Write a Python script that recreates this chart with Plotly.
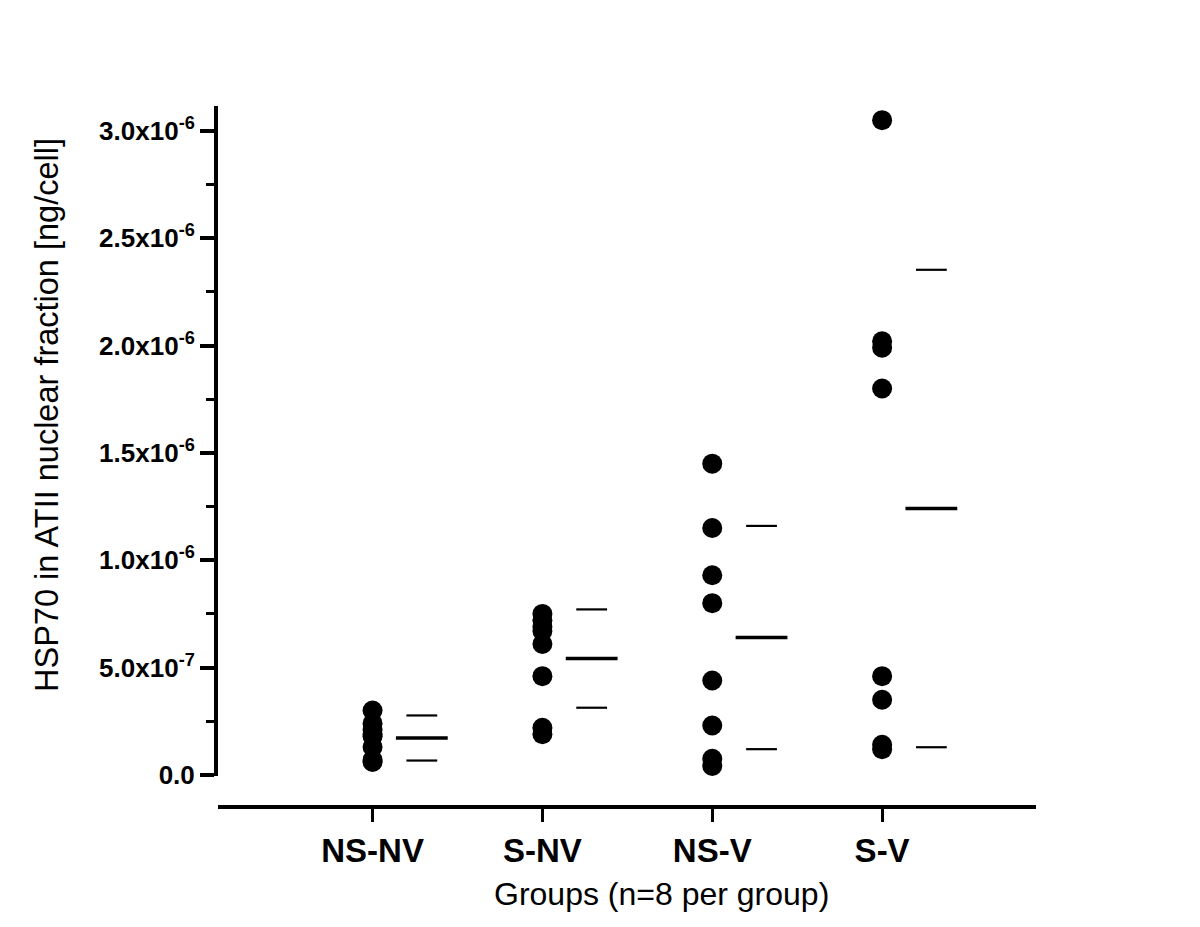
import plotly.graph_objects as go

groups = ["NS-NV", "S-NV", "NS-V", "S-V"]
# values in units of 1e-6 ng/cell
ns_nv = [0.30, 0.24, 0.21, 0.19, 0.18, 0.13, 0.07, 0.06]
s_nv = [0.75, 0.72, 0.69, 0.67, 0.61, 0.46, 0.22, 0.19]
ns_v = [1.45, 1.15, 0.93, 0.80, 0.44, 0.23, 0.075, 0.042]
s_v = [3.05, 2.02, 1.99, 1.80, 0.46, 0.35, 0.14, 0.12]
means = [0.172, 0.542, 0.640, 1.241]
sds = [0.105, 0.229, 0.520, 1.112]

ytick_vals = [0.0, 0.5, 1.0, 1.5, 2.0, 2.5, 3.0]
ytick_text = ["0.0", "5.0x10<sup>-7</sup>", "1.0x10<sup>-6</sup>", "1.5x10<sup>-6</sup>",
              "2.0x10<sup>-6</sup>", "2.5x10<sup>-6</sup>", "3.0x10<sup>-6</sup>"]

scale = 1e-6
series = [ns_nv, s_nv, ns_v, s_v]
offset = 0.29

fig = go.Figure()
for i, vals in enumerate(series):
    fig.add_trace(go.Scatter(
        x=[i + 1] * len(vals), y=[v * scale for v in vals], mode="markers",
        marker=dict(size=20, color="black", symbol="circle"),
        cliponaxis=False, showlegend=False))

xs = [i + 1 + offset for i in range(len(groups))]
fig.add_trace(go.Scatter(
    x=xs, y=[m * scale for m in means], mode="markers",
    marker=dict(symbol="line-ew", size=37, line=dict(width=3.5, color="black")),
    cliponaxis=False, showlegend=False))
fig.add_trace(go.Scatter(
    x=xs + xs, y=[(m + s) * scale for m, s in zip(means, sds)] + [(m - s) * scale for m, s in zip(means, sds)],
    mode="markers",
    marker=dict(symbol="line-ew", size=22, line=dict(width=2.2, color="black")),
    cliponaxis=False, showlegend=False))

OFF = 7  # page offset observed in rendering
L, R = 210, 172
T = 105 - OFF
B = 927 - (808 - OFF) + 2
W = 1200 - L - R
H = 927 - T - B
bottom_px = 927 - B  # layout px of domain bottom
ydom0 = (bottom_px - (775 - OFF)) / H


def px_x(p):
    return (p - OFF - L) / W


def px_y(p):
    return (bottom_px - (p - OFF)) / H


fig.update_layout(
    width=1200, height=927,
    margin=dict(l=L, r=R, t=T, b=B),
    paper_bgcolor="white", plot_bgcolor="white",
    font=dict(family="Liberation Sans, Arial, sans-serif", color="black"),
    xaxis=dict(
        range=[0.09, 4.906], anchor="free", position=0,
        tickvals=[1, 2, 3, 4], ticktext=["<b>%s</b>" % g for g in groups],
        tickfont=dict(size=33), showline=True, linewidth=4, linecolor="black",
        ticks="outside", ticklen=13, tickwidth=3, tickcolor="black",
        showgrid=False, zeroline=False,
    ),
    yaxis=dict(
        domain=[ydom0, 1], range=[-0.005e-6, 3.116e-6], anchor="x",
        tickvals=[v * scale for v in ytick_vals],
        ticktext=["<b>%s</b>" % t for t in ytick_text],
        tickfont=dict(size=26), showline=True, linewidth=4, linecolor="black",
        ticks="outside", ticklen=14, tickwidth=4, tickcolor="black",
        minor=dict(dtick=0.25e-6, tick0=0, ticks="outside", ticklen=8, tickwidth=3, tickcolor="black"),
        showgrid=False, zeroline=False,
    ),
    annotations=[
        dict(text="HSP70 in ATII nuclear fraction [ng/cell]", xref="paper", yref="paper",
             x=px_x(46), y=px_y(414), textangle=-90, showarrow=False,
             font=dict(size=32.5), xanchor="center", yanchor="middle"),
        dict(text="Groups (n=8 per group)", xref="paper", yref="paper",
             x=px_x(660), y=px_y(893), showarrow=False,
             font=dict(size=32), xanchor="center", yanchor="middle"),
    ],
)

fig.write_html("out.html")
